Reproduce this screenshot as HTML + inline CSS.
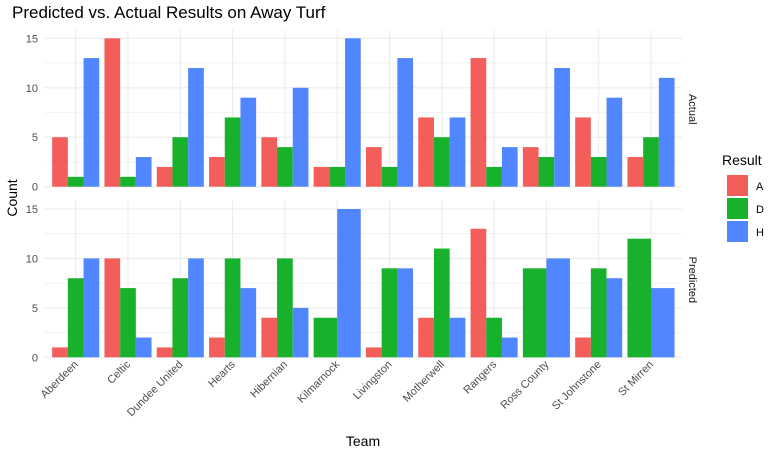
<!DOCTYPE html>
<html><head><meta charset="utf-8"><style>
body{margin:0;background:#fff;font-family:"Liberation Sans",Arial,sans-serif;}
svg text{font-family:"Liberation Sans",Arial,sans-serif;}
</style></head><body>
<svg id="c" width="782" height="459">
<text x="12" y="18" font-size="17" fill="#000">Predicted vs. Actual Results on Away Turf</text>
<text x="363" y="446" font-size="14" text-anchor="middle">Team</text>
<text transform="translate(17,198) rotate(-90)" font-size="14" text-anchor="middle">Count</text>
<g id="legend">
<text x="722" y="165" font-size="14">Result</text>
</g>
</svg>
<script>
const teams=["Aberdeen","Celtic","Dundee United","Hearts","Hibernian","Kilmarnock","Livingston","Motherwell","Rangers","Ross County","St Johnstone","St Mirren"];
const results=["A","D","H"];
const colors=["#F35E5A","#17B12B","#5086FF"];
const actualA=[5,15,2,3,5,2,4,7,13,4,7,3];
const actualD=[1,1,5,7,4,2,2,5,2,3,3,5];
const actualH=[13,3,12,9,10,15,13,7,4,12,9,11];
const predA=[1,10,1,2,4,0,1,4,13,0,2,0];
const predD=[8,7,8,10,10,4,9,11,4,9,9,12];
const predH=[10,2,10,7,5,15,9,4,2,10,8,7];
const yTicks=[0,5,10,15];
const panels=[{name:"Actual",vals:[actualA,actualD,actualH],y0:186.7,y15:38.3},{name:"Predicted",vals:[predA,predD,predH],y0:357.3,y15:209}];
const NS="http://www.w3.org/2000/svg";
const svg=document.getElementById('c');
const px0=44.3,px1=682,step=52.3,first=75.7;
const xs=i=>first+i*step;
function mk(t,a,p){const e=document.createElementNS(NS,t);for(const k in a)e.setAttribute(k,a[k]);(p||svg).appendChild(e);return e;}
panels.forEach((P,pi)=>{
  const ys=v=>P.y0-(v/15)*(P.y0-P.y15);
  const top=P.y15-8,bot=P.y0+1.5;
  const g=mk('g',{});
  
  
  for(let v=0;v<=15;v+=2.5){mk('line',{x1:px0,x2:px1,y1:ys(v),y2:ys(v),stroke:'#ebebeb','stroke-width':v%5==0?1.1:0.6},g);}
  teams.forEach((t,i)=>{mk('line',{x1:xs(i),x2:xs(i),y1:top,y2:bot,stroke:'#ebebeb','stroke-width':1.1},g);});
  yTicks.forEach(v=>{const tx=mk('text',{x:38,y:ys(v)+4,'font-size':11,fill:'#4d4d4d','text-anchor':'end'},g);tx.textContent=v;
    
    });
  teams.forEach((t,i)=>{
    const present=[0,1,2].filter(k=>P.vals[k][i]>0);
    const gw=step*0.9,bw=gw/present.length,start=xs(i)-gw/2;
    present.forEach((k,j)=>{const v=P.vals[k][i];
      const r=mk('rect',{x:start+j*bw,y:ys(v),width:bw,height:P.y0-ys(v),fill:colors[k]},g);
      
      });
  });
  const cy=(top+bot)/2;
  const st=mk('text',{transform:`translate(689,${cy}) rotate(90)`,'font-size':11,fill:'#1a1a1a','text-anchor':'middle'},g);
  st.textContent=P.name;
  
  
});
teams.forEach((t,i)=>{
  const tx=mk('text',{transform:`translate(${xs(i)+3},365) rotate(-45)`,'font-size':11,fill:'#4d4d4d','text-anchor':'end'});
  tx.textContent=t;
  
  
});
const lg=document.getElementById('legend');
results.forEach((r,k)=>{
  const y=175+k*23;
  const rc=mk('rect',{x:727,y:y,width:21,height:21,fill:colors[k]},lg);
  
  
  const tx=mk('text',{x:756,y:y+15,'font-size':11},lg);tx.textContent=r;
  
  
});
</script>
</body></html>
